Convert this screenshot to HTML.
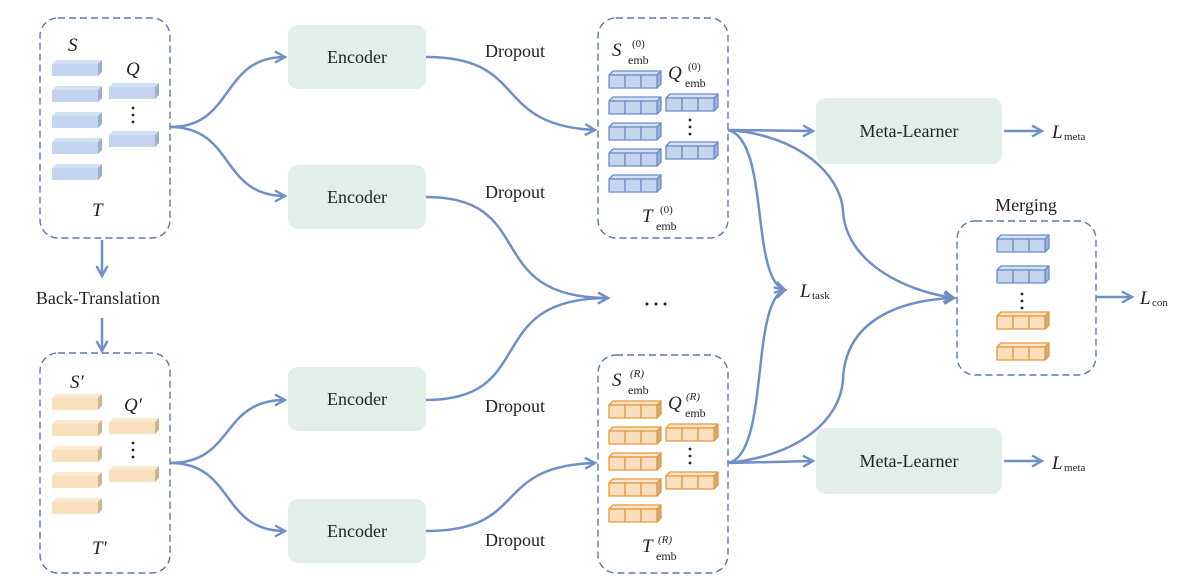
<!DOCTYPE html>
<html><head><meta charset="utf-8"><style>
html,body{margin:0;padding:0;background:#fff;}
svg{display:block;}
text{font-family:"Liberation Serif",serif;fill:#222;}
.it{font-style:italic;}
</style></head><body>
<svg width="1182" height="584" viewBox="0 0 1182 584" xmlns="http://www.w3.org/2000/svg">
<defs>
<marker id="ah" markerWidth="14" markerHeight="14" refX="11" refY="7" orient="auto" markerUnits="userSpaceOnUse">
<polyline points="1,1.5 11,7 1,12.5" fill="none" stroke="#6f8fc8" stroke-width="2.4"/>
</marker>
<g id="bb"><polygon points="0,4 4,0 50,0 46,4" fill="#d3dff2"/><rect x="0" y="4" width="46" height="12" fill="#c3d4ee"/><polygon points="46,4 50,0 50,12 46,16" fill="#9eafca"/></g>
<g id="ob"><polygon points="0,4 4,0 50,0 46,4" fill="#fbe8cd"/><rect x="0" y="4" width="46" height="12" fill="#f8e0bd"/><polygon points="46,4 50,0 50,12 46,16" fill="#cfb48f"/></g>
<g id="bc" stroke="#6b8cc9" stroke-width="1.3" stroke-linejoin="round">
<polygon points="0,4 4,0 52,0 48,4" fill="#d6e1f3"/><polygon points="48,4 52,0 52,13 48,17" fill="#9fb3d6"/>
<rect x="0" y="4" width="16" height="13" fill="#c5d5ee"/><rect x="16" y="4" width="16" height="13" fill="#c5d5ee"/><rect x="32" y="4" width="16" height="13" fill="#c5d5ee"/></g>
<g id="oc" stroke="#e8973a" stroke-width="1.3" stroke-linejoin="round">
<polygon points="0,4 4,0 52,0 48,4" fill="#fbe6cb"/><polygon points="48,4 52,0 52,13 48,17" fill="#c9ad8a"/>
<rect x="0" y="4" width="16" height="13" fill="#f9dfbe"/><rect x="16" y="4" width="16" height="13" fill="#f9dfbe"/><rect x="32" y="4" width="16" height="13" fill="#f9dfbe"/></g>
</defs>

<g fill="none" stroke="#5a78b0" stroke-width="1.4" stroke-dasharray="7,4">
<rect x="40" y="18" width="130" height="220" rx="18"/>
<rect x="40" y="353" width="130" height="220" rx="18"/>
<rect x="598" y="18" width="130" height="220" rx="18"/>
<rect x="598" y="355" width="130" height="218" rx="18"/>
<rect x="957" y="221" width="139" height="154" rx="18"/>
</g>

<use href="#bb" x="52" y="60"/><use href="#bb" x="52" y="86"/><use href="#bb" x="52" y="112"/><use href="#bb" x="52" y="138"/><use href="#bb" x="52" y="164"/>
<use href="#bb" x="109" y="83"/><use href="#bb" x="109" y="131"/>
<use href="#ob" x="52" y="394"/><use href="#ob" x="52" y="420"/><use href="#ob" x="52" y="446"/><use href="#ob" x="52" y="472"/><use href="#ob" x="52" y="498"/>
<use href="#ob" x="109" y="418"/><use href="#ob" x="109" y="466"/>

<use href="#bc" x="609" y="71"/><use href="#bc" x="609" y="97"/><use href="#bc" x="609" y="123"/><use href="#bc" x="609" y="149"/><use href="#bc" x="609" y="175"/>
<use href="#bc" x="666" y="94"/><use href="#bc" x="666" y="142"/>
<use href="#oc" x="609" y="401"/><use href="#oc" x="609" y="427"/><use href="#oc" x="609" y="453"/><use href="#oc" x="609" y="479"/><use href="#oc" x="609" y="505"/>
<use href="#oc" x="666" y="424"/><use href="#oc" x="666" y="472"/>
<use href="#bc" x="997" y="235"/><use href="#bc" x="997" y="266"/>
<use href="#oc" x="997" y="312"/><use href="#oc" x="997" y="343"/>

<g fill="#222">
<circle cx="133" cy="108" r="1.4"/><circle cx="133" cy="115" r="1.4"/><circle cx="133" cy="122" r="1.4"/>
<circle cx="133" cy="443" r="1.4"/><circle cx="133" cy="450" r="1.4"/><circle cx="133" cy="457" r="1.4"/>
<circle cx="690" cy="120" r="1.4"/><circle cx="690" cy="127" r="1.4"/><circle cx="690" cy="134" r="1.4"/>
<circle cx="690" cy="449" r="1.4"/><circle cx="690" cy="456" r="1.4"/><circle cx="690" cy="463" r="1.4"/>
<circle cx="1022" cy="294" r="1.4"/><circle cx="1022" cy="301" r="1.4"/><circle cx="1022" cy="308" r="1.4"/>
<circle cx="647" cy="304" r="1.5"/><circle cx="656" cy="304" r="1.5"/><circle cx="665" cy="304" r="1.5"/>
</g>

<g fill="#e2efe8">
<rect x="288" y="25" width="138" height="64" rx="10"/>
<rect x="288" y="165" width="138" height="64" rx="10"/>
<rect x="288" y="367" width="138" height="64" rx="10"/>
<rect x="288" y="499" width="138" height="64" rx="10"/>
<rect x="816" y="98" width="186" height="66" rx="10"/>
<rect x="816" y="428" width="186" height="66" rx="10"/>
</g>
<g font-size="18" text-anchor="middle">
<text x="357" y="63">Encoder</text><text x="357" y="203">Encoder</text>
<text x="357" y="405">Encoder</text><text x="357" y="537">Encoder</text>
<text x="909" y="137">Meta-Learner</text><text x="909" y="467">Meta-Learner</text>
<text x="515" y="57">Dropout</text><text x="515" y="198">Dropout</text>
<text x="515" y="412">Dropout</text><text x="515" y="546">Dropout</text>
<text x="98" y="304">Back-Translation</text>
<text x="1026" y="211">Merging</text>
</g>

<g fill="none" stroke="#6f8fc8" stroke-width="2.5" marker-end="url(#ah)">
<path d="M170,127 C235,127 220,57 285,57"/>
<path d="M170,127 C235,127 220,196 285,196"/>
<path d="M170,463 C235,463 220,400 285,400"/>
<path d="M170,463 C235,463 220,531 285,531"/>
<path d="M426,57 C530,57 490,125 595,130"/>
<path d="M426,197 C540,197 480,298 608,298"/>
<path d="M426,400 C540,400 480,298 608,298"/>
<path d="M426,531 C530,531 490,466 595,463"/>
<path d="M102,240 L102,276"/>
<path d="M102,318 L102,351"/>
<path d="M728,130 L813,131"/>
<path d="M728,463 L813,461"/>
<path d="M728,130 C770,140 750,280 785,290"/>
<path d="M728,463 C770,455 750,300 785,290"/>
<path d="M728,130 C800,135 840,175 843,210 C845,260 900,290 954,298"/>
<path d="M728,463 C800,455 840,420 843,380 C845,320 900,300 954,298"/>
<path d="M1004,131 L1042,131"/>
<path d="M1004,461 L1042,461"/>
<path d="M1096,297 L1132,297"/>
</g>

<g font-size="19">
<text x="68" y="51" class="it">S</text>
<text x="126" y="75" class="it">Q</text>
<text x="92" y="216" class="it">T</text>
<text x="70" y="388" class="it">S′</text>
<text x="124" y="411" class="it">Q′</text>
<text x="92" y="554" class="it">T′</text>
<text x="612" y="56" class="it">S</text><text x="628" y="64" font-size="12">emb</text><text x="632" y="47" font-size="11">(0)</text>
<text x="668" y="79" class="it">Q</text><text x="685" y="87" font-size="12">emb</text><text x="688" y="70" font-size="11">(0)</text>
<text x="642" y="222" class="it">T</text><text x="656" y="230" font-size="12">emb</text><text x="660" y="213" font-size="11">(0)</text>
<text x="612" y="386" class="it">S</text><text x="628" y="394" font-size="12">emb</text><text x="630" y="377" font-size="11" class="it">(R)</text>
<text x="668" y="409" class="it">Q</text><text x="685" y="417" font-size="12">emb</text><text x="686" y="400" font-size="11" class="it">(R)</text>
<text x="642" y="552" class="it">T</text><text x="656" y="560" font-size="12">emb</text><text x="658" y="543" font-size="11" class="it">(R)</text>
<text x="1052" y="138" class="it">L</text><text x="1064" y="140" font-size="11">meta</text>
<text x="1052" y="469" class="it">L</text><text x="1064" y="471" font-size="11">meta</text>
<text x="800" y="297" class="it">L</text><text x="812" y="299" font-size="11">task</text>
<text x="1140" y="304" class="it">L</text><text x="1152" y="306" font-size="11">con</text>
</g>
</svg>
</body></html>
